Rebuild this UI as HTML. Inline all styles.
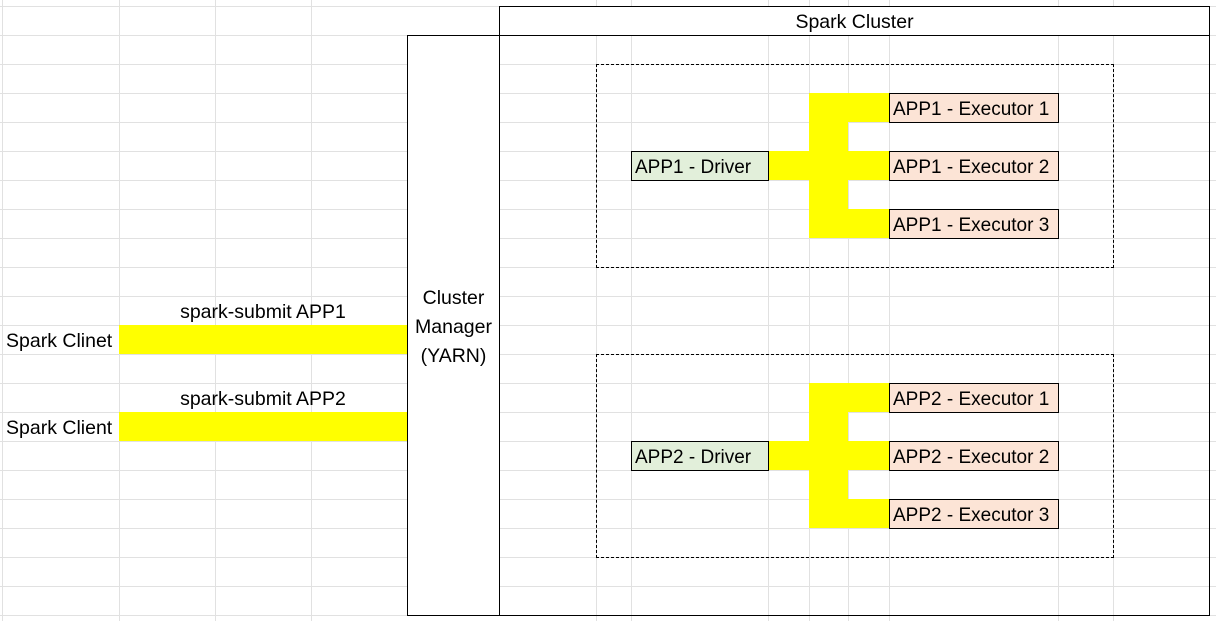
<!DOCTYPE html>
<html><head><meta charset="utf-8"><style>
html,body{margin:0;padding:0;background:#fff;}
#c{position:relative;width:1216px;height:621px;overflow:hidden;font-family:"Liberation Sans",sans-serif;font-size:19.5px;color:#000;}
.v{position:absolute;top:0;width:1px;height:621px;background:#e1e1e1;}
.h{position:absolute;left:0;height:1px;width:1216px;background:#e1e1e1;}
.a{position:absolute;box-sizing:border-box;}
.y{background:#ffff00;}
.t{position:absolute;white-space:nowrap;line-height:29px;}
.ex{background:#fce4d6;border:1px solid #000;padding-left:3px;line-height:31px;font-size:19px;white-space:nowrap;overflow:hidden;}
.dr{background:#e2efda;border:1px solid #000;padding-left:3px;line-height:31px;font-size:19px;white-space:nowrap;overflow:hidden;}
.ds{border:1px dashed #000;}
</style></head><body><div id="c">
<div class="v" style="left:2px"></div><div class="v" style="left:119px"></div><div class="v" style="left:215px"></div><div class="v" style="left:311px"></div><div class="v" style="left:596px"></div><div class="v" style="left:631px"></div><div class="v" style="left:768px"></div><div class="v" style="left:809px"></div><div class="v" style="left:848px"></div><div class="v" style="left:889px"></div><div class="v" style="left:1058px"></div><div class="v" style="left:1113px"></div>
<div class="h" style="top:6px"></div><div class="h" style="top:35px"></div><div class="h" style="top:64px"></div><div class="h" style="top:93px"></div><div class="h" style="top:122px"></div><div class="h" style="top:151px"></div><div class="h" style="top:180px"></div><div class="h" style="top:209px"></div><div class="h" style="top:238px"></div><div class="h" style="top:267px"></div><div class="h" style="top:296px"></div><div class="h" style="top:325px"></div><div class="h" style="top:354px"></div><div class="h" style="top:383px"></div><div class="h" style="top:412px"></div><div class="h" style="top:441px"></div><div class="h" style="top:470px"></div><div class="h" style="top:499px"></div><div class="h" style="top:528px"></div><div class="h" style="top:557px"></div><div class="h" style="top:586px"></div><div class="h" style="top:615px"></div>

<div class="a" style="left:499px;top:6px;width:711px;height:30px;border:1px solid #000;background:#fff;text-align:center;line-height:30px;">Spark Cluster</div>
<div class="a" style="left:499px;top:35px;width:711px;height:581px;border:1px solid #000;"></div>
<div class="a" style="left:407px;top:35px;width:93px;height:581px;border:1px solid #000;background:#fff;text-align:center;padding-top:248px;line-height:29px;">Cluster<br>Manager<br>(YARN)</div>

<div class="a y" style="left:119px;top:325px;width:288px;height:29px"></div>
<div class="a y" style="left:119px;top:412px;width:288px;height:29px"></div>
<div class="t" style="left:119px;width:288px;text-align:center;top:298px">spark-submit APP1</div>
<div class="t" style="left:119px;width:288px;text-align:center;top:385px">spark-submit APP2</div>
<div class="t" style="left:6px;top:327px">Spark Clinet</div>
<div class="t" style="left:6px;top:414px">Spark Client</div>

<div class="a ds" style="left:596px;top:64px;width:518px;height:204px"></div>
<div class="a y" style="left:809px;top:93px;width:80px;height:29px"></div>
<div class="a y" style="left:809px;top:93px;width:39px;height:145px"></div>
<div class="a y" style="left:768px;top:151px;width:121px;height:29px"></div>
<div class="a y" style="left:809px;top:209px;width:80px;height:29px"></div>
<div class="a dr" style="left:631px;top:151px;width:138px;height:30px">APP1 - Driver</div>
<div class="a ex" style="left:889px;top:93px;width:170px;height:30px">APP1 - Executor 1</div>
<div class="a ex" style="left:889px;top:151px;width:170px;height:30px">APP1 - Executor 2</div>
<div class="a ex" style="left:889px;top:209px;width:170px;height:30px">APP1 - Executor 3</div>

<div class="a ds" style="left:596px;top:354px;width:518px;height:204px"></div>
<div class="a y" style="left:809px;top:383px;width:80px;height:29px"></div>
<div class="a y" style="left:809px;top:383px;width:39px;height:145px"></div>
<div class="a y" style="left:768px;top:441px;width:121px;height:29px"></div>
<div class="a y" style="left:809px;top:499px;width:80px;height:29px"></div>
<div class="a dr" style="left:631px;top:441px;width:138px;height:30px">APP2 - Driver</div>
<div class="a ex" style="left:889px;top:383px;width:170px;height:30px">APP2 - Executor 1</div>
<div class="a ex" style="left:889px;top:441px;width:170px;height:30px">APP2 - Executor 2</div>
<div class="a ex" style="left:889px;top:499px;width:170px;height:30px">APP2 - Executor 3</div>
</div></body></html>
